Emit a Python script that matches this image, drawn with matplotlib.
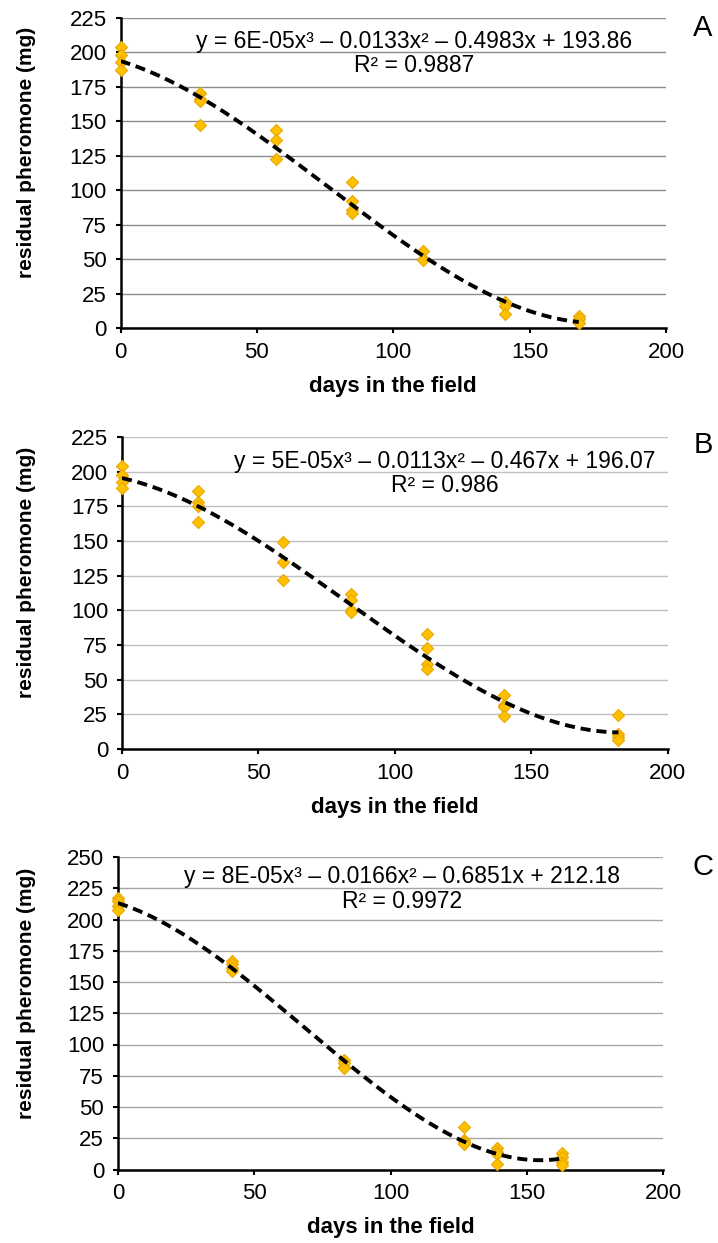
import numpy as np
import matplotlib
matplotlib.use("Agg")
import matplotlib.pyplot as plt

plt.rcParams['font.family'] = ['Liberation Sans', 'DejaVu Sans']

# ---------------- data ----------------
days_A = [0, 0, 0, 0, 29, 29, 29, 29, 57, 57, 57, 85, 85, 85, 85,
          111, 111, 111, 141, 141, 141, 168, 168, 168]
res_A = [203.8, 198.0, 192.6, 187.3, 170.7, 165.9, 164.7, 147.1, 143.5, 136.4, 122.8,
         106.2, 92.5, 85.3, 83.6, 55.9, 50.3, 49.1, 19.0, 15.9, 10.6, 8.9, 7.0, 3.9]

days_B = [0, 0, 0, 0, 28, 28, 28, 28, 59, 59, 59, 84, 84, 84, 84,
          112, 112, 112, 112, 140, 140, 140, 140, 182, 182, 182, 182]
res_B = [203.9, 197.5, 192.2, 187.9, 186.0, 177.9, 175.5, 163.5, 149.2, 134.8, 122.1,
         112.0, 107.7, 100.5, 98.8, 82.9, 72.8, 61.4, 57.8, 39.0, 32.0, 30.6, 24.1,
         24.3, 10.8, 8.4, 6.5]

days_C = [0, 0, 0, 0, 42, 42, 42, 42, 83, 83, 83, 83, 127, 127, 127, 127,
          139, 139, 139, 139, 163, 163, 163, 163]
res_C = [217.3, 214.6, 210.6, 208.0, 166.8, 164.1, 161.4, 158.8, 87.5, 84.9, 82.2, 80.9,
         33.7, 23.8, 22.0, 20.1, 17.1, 13.9, 12.6, 4.3, 13.4, 9.9, 5.9, 4.0]

eq_A = "y = 6E-05x\u00b3 \u2013 0.0133x\u00b2 \u2013 0.4983x + 193.86\nR\u00b2 = 0.9887"
eq_B = "y = 5E-05x\u00b3 \u2013 0.0113x\u00b2 \u2013 0.467x + 196.07\nR\u00b2 = 0.986"
eq_C = "y = 8E-05x\u00b3 \u2013 0.0166x\u00b2 \u2013 0.6851x + 212.18\nR\u00b2 = 0.9972"

ymax_list = [225, 225, 250]
letters = ["A", "B", "C"]
xlabel = "days in the field"
ylabel = "residual pheromone (mg)"

# ---------------- layout ----------------
W, H = 718, 1243
fig = plt.figure(figsize=(W / 100, H / 100), dpi=100)

# axes rectangles in pixels: left, top, right, bottom
rects = [(120.5, 17.5, 666, 328.3), (122, 437, 667.5, 749), (118, 857, 663, 1169.5)]
grid_colors = ["#8c8c8c", "#c0c0c0", "#a6a6a6"]
eq_pos = [(0.538, 0.884), (0.592, 0.883), (0.521, 0.897)]
letter_pos = [(703, 28), (703, 445), (703, 867)]

datasets = [(days_A, res_A, eq_A), (days_B, res_B, eq_B), (days_C, res_C, eq_C)]

for i, ((xd, yd, eq), (l, t, r, b)) in enumerate(zip(datasets, rects)):
    ax = fig.add_axes([l / W, 1 - b / H, (r - l) / W, (b - t) / H])
    ymax = ymax_list[i]
    ax.set_xlim(0, 200)
    ax.set_ylim(0, ymax)
    ax.set_xticks(np.arange(0, 201, 50))
    ax.set_yticks(np.arange(0, ymax + 1, 25))
    for s in ["top", "right"]:
        ax.spines[s].set_visible(False)
    for s in ["left", "bottom"]:
        ax.spines[s].set_linewidth(1.8)
        ax.spines[s].set_color("black")
    ax.yaxis.grid(True, color=grid_colors[i], linewidth=1.0)
    ax.set_axisbelow(True)
    ax.tick_params(axis="both", direction="out", length=3.5, width=1.5,
                   labelsize=16, colors="black", pad=6.5)

    ax.scatter(xd, yd, marker="D", s=38, color="#FFC000", edgecolors="#E8A800",
               linewidths=0.8, zorder=3, clip_on=False)

    coef = np.polyfit(xd, yd, 3)
    xs = np.linspace(0, max(xd), 200)
    ax.plot(xs, np.polyval(coef, xs), color="black", linewidth=2.8,
            linestyle=(0, (2.6, 1.5)), zorder=4, dash_capstyle="butt")

    ax.text(eq_pos[i][0], eq_pos[i][1], eq, transform=ax.transAxes, ha="center",
            va="center", fontsize=16.5, linespacing=1.1)

    ax.set_xlabel(xlabel, fontsize=16, fontweight="bold")
    ax.set_ylabel(ylabel, fontsize=15, fontweight="bold")
    ax.xaxis.label.set_va("center")
    ax.yaxis.label.set_va("center")
    ax.xaxis.set_label_coords(0.5, -(58.5 / (b - t)))
    ax.yaxis.set_label_coords((27 - l) / (r - l), 0.565)

    fig.text(letter_pos[i][0] / W, 1 - letter_pos[i][1] / H, letters[i],
             fontsize=21, ha="center", va="center")

fig.savefig("out.png", dpi=100)
